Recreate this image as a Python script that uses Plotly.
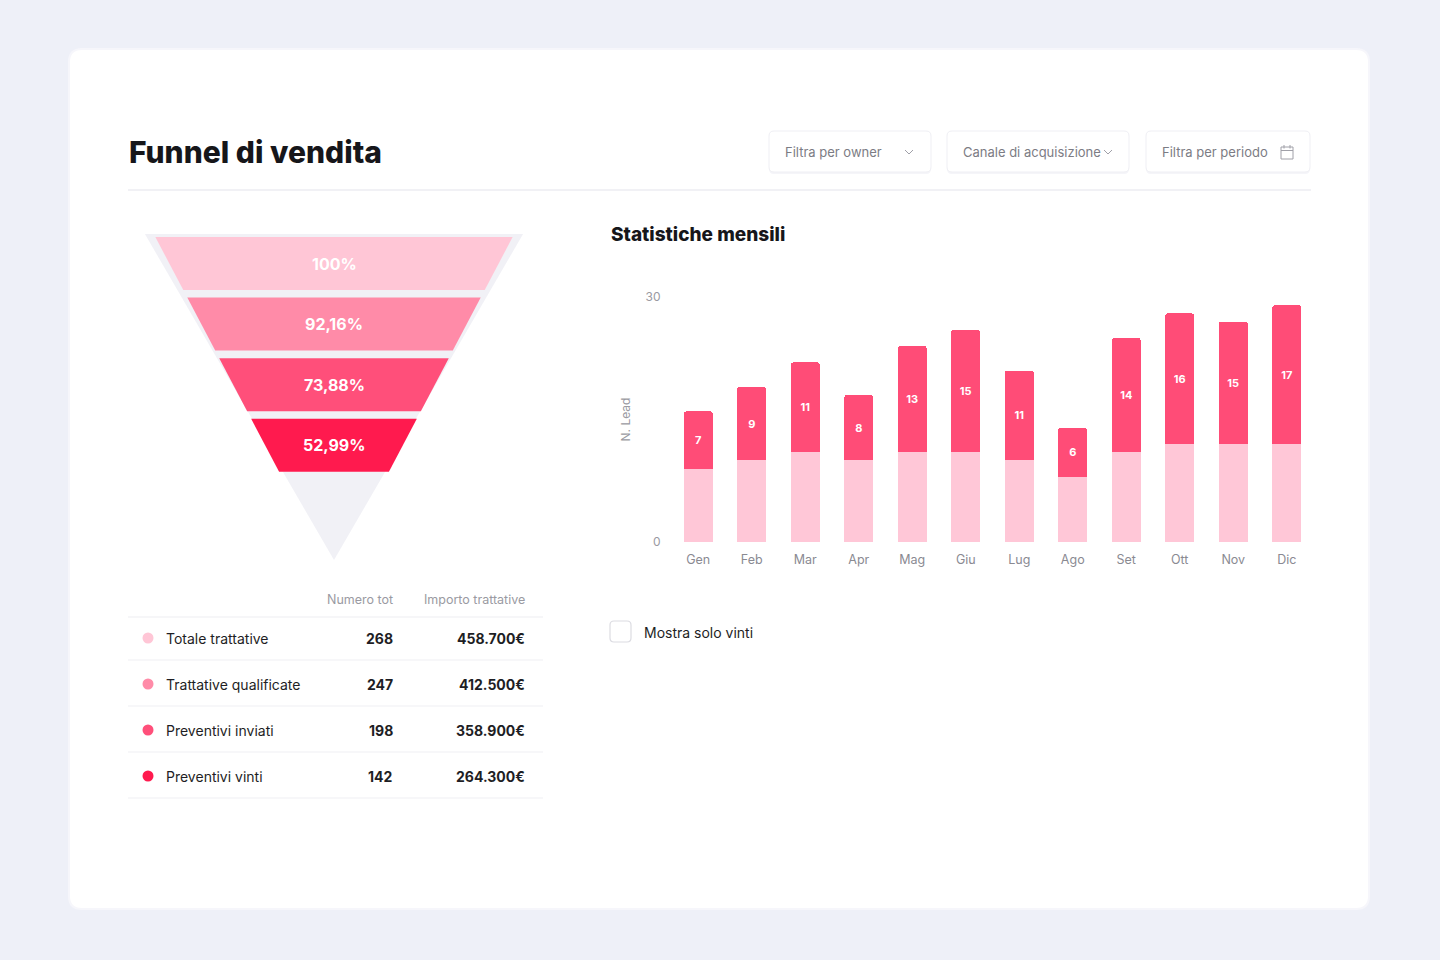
import plotly.graph_objects as go

W, H = 1440, 960

# ---------------- data ----------------
stages = ["Totale trattative", "Trattative qualificate", "Preventivi inviati", "Preventivi vinti"]
stage_counts = [268, 247, 198, 142]
stage_amounts = ["458.700€", "412.500€", "358.900€", "264.300€"]
stage_colors = ["#FFC6D6", "#FF8BA8", "#FF4F7A", "#FF1A4E"]

months = ["Gen", "Feb", "Mar", "Apr", "Mag", "Giu", "Lug", "Ago", "Set", "Ott", "Nov", "Dic"]
base_leads = [9, 10, 11, 10, 11, 11, 10, 8, 11, 12, 12, 12]
won_leads = [7, 9, 11, 8, 13, 15, 11, 6, 14, 16, 15, 17]
y_ticks = [0, 30]

FONT = "Inter"
TITLE_FONT = "Inter"


def px(x):
    return x / W


def py(y):
    return 1 - y / H


def rrect(x0, y0, x1, y1, r):
    """rounded rectangle path in paper coords from pixel values"""
    rx, ry = r / W, r / H
    X0, X1 = px(x0), px(x1)
    Y0, Y1 = py(y0), py(y1)
    return (f"M {X0+rx},{Y0} L {X1-rx},{Y0} Q {X1},{Y0} {X1},{Y0-ry} "
            f"L {X1},{Y1+ry} Q {X1},{Y1} {X1-rx},{Y1} L {X0+rx},{Y1} "
            f"Q {X0},{Y1} {X0},{Y1+ry} L {X0},{Y0-ry} Q {X0},{Y0} {X0+rx},{Y0} Z")


fig = go.Figure()
shapes = []
annotations = []

# ---------------- funnel (pixel-space axis) ----------------
CX = 334
G_APEX, G_SLOPE, G_TOP = 560, 0.58, 234
S_APEX, S_SLOPE = 576, 0.527
S_TOP0, S_STEP, S_H = 237, 60.6, 53

gh = G_SLOPE * (G_APEX - G_TOP)
fig.add_trace(go.Scatter(
    x=[CX - gh, CX + gh, CX, CX - gh], y=[G_TOP, G_TOP, G_APEX, G_TOP],
    fill="toself", fillcolor="#F1F1F6", line=dict(width=0), mode="lines",
    hoverinfo="skip", showlegend=False, xaxis="x", yaxis="y"))

for i, (name, cnt, col) in enumerate(zip(stages, stage_counts, stage_colors)):
    t = S_TOP0 + i * S_STEP
    b = t + S_H
    ht = S_SLOPE * (S_APEX - t)
    hb = S_SLOPE * (S_APEX - b)
    fig.add_trace(go.Scatter(
        x=[CX - ht, CX + ht, CX + hb, CX - hb, CX - ht], y=[t, t, b, b, t],
        fill="toself", fillcolor=col, line=dict(width=0), mode="lines",
        hoverinfo="skip", showlegend=False, xaxis="x", yaxis="y"))
    pct = cnt / stage_counts[0] * 100
    lab = "100%" if i == 0 else f"{pct:.2f}%".replace(".", ",")
    annotations.append(dict(x=CX, y=(t + b) / 2, xref="x", yref="y", text=lab, showarrow=False,
                            font=dict(family=FONT, size=16, color="#FFFFFF", weight="bold")))

# table dots
ROW_Y0, ROW_STEP = 638, 46
fig.add_trace(go.Scatter(
    x=[148] * len(stages), y=[ROW_Y0 + i * ROW_STEP for i in range(len(stages))],
    mode="markers", marker=dict(size=11, color=stage_colors), hoverinfo="skip",
    showlegend=False, xaxis="x", yaxis="y"))

# ---------------- bars ----------------
fig.add_trace(go.Bar(x=months, y=base_leads, marker=dict(color="#FFC7D7", line=dict(width=0)),
                     width=0.54, hoverinfo="skip", showlegend=False, xaxis="x2", yaxis="y2"))
fig.add_trace(go.Bar(x=months, y=won_leads, marker=dict(color="#FF4C77", line=dict(width=0)),
                     width=0.54, text=[str(v) for v in won_leads], textposition="inside",
                     insidetextanchor="middle", textangle=0,
                     textfont=dict(family=FONT, size=11, color="#FFFFFF", weight="bold"),
                     hoverinfo="skip", showlegend=False, xaxis="x2", yaxis="y2"))

# card
shapes.append(dict(type="path", xref="paper", yref="paper", path=rrect(68, 48, 1370, 910, 14),
                   fillcolor="#F6F6FB", line=dict(width=0), layer="below"))
shapes.append(dict(type="path", xref="paper", yref="paper", path=rrect(70, 50, 1368, 908, 12),
                   fillcolor="#FFFFFF", line=dict(width=0), layer="below"))

# header separator
shapes.append(dict(type="line", xref="paper", yref="paper", x0=px(128), x1=px(1311), y0=py(190), y1=py(190),
                   line=dict(color="#EDEDF2", width=1.5), layer="below"))

# title
annotations.append(dict(x=px(127), y=py(152), xref="paper", yref="paper", xanchor="left", yanchor="middle",
                        text="Funnel di vendita", showarrow=False,
                        font=dict(family=TITLE_FONT, size=30, color="#16161A", weight=800)))

# filter buttons
buttons = [("Filtra per owner", 769, 931, "chev", 909),
           ("Canale di acquisizione", 947, 1129, "chev", 1108),
           ("Filtra per periodo", 1146, 1310, "cal", 1287)]
for label, x0, x1, icon, ix in buttons:
    shapes.append(dict(type="path", xref="paper", yref="paper", path=rrect(x0, 133, x1, 174, 5),
                       fillcolor="#F5F5F9", line=dict(width=0), layer="below"))
    shapes.append(dict(type="path", xref="paper", yref="paper", path=rrect(x0, 131, x1, 172, 5),
                       fillcolor="#FFFFFF", line=dict(color="#EFEFF4", width=1), layer="below"))
    annotations.append(dict(x=px(x0 + 14), y=py(152), xref="paper", yref="paper", xanchor="left",
                            yanchor="middle", text=label, showarrow=False,
                            font=dict(family=FONT, size=13, color="#7C7C84")))
    if icon == "chev":
        shapes.append(dict(type="path", xref="paper", yref="paper",
                           path=f"M {px(ix-4)},{py(150)} L {px(ix)},{py(154)} L {px(ix+4)},{py(150)}",
                           line=dict(color="#A0A0A8", width=1)))
    else:
        shapes.append(dict(type="rect", xref="paper", yref="paper", x0=px(ix - 6), x1=px(ix + 6),
                           y0=py(159), y1=py(147), line=dict(color="#A0A0A8", width=1)))
        shapes.append(dict(type="line", xref="paper", yref="paper", x0=px(ix - 6), x1=px(ix + 6),
                           y0=py(150.5), y1=py(150.5), line=dict(color="#A0A0A8", width=1)))
        for dx in (-3, 3):
            shapes.append(dict(type="line", xref="paper", yref="paper", x0=px(ix + dx), x1=px(ix + dx),
                               y0=py(145), y1=py(148.5), line=dict(color="#A0A0A8", width=1)))

# table
COL_NUM, COL_AMT = 395, 527
annotations.append(dict(x=px(COL_NUM), y=py(599), xref="paper", yref="paper", xanchor="right", yanchor="middle",
                        text="Numero tot", showarrow=False, font=dict(family=FONT, size=12.5, color="#9A9AA2")))
annotations.append(dict(x=px(COL_AMT), y=py(599), xref="paper", yref="paper", xanchor="right", yanchor="middle",
                        text="Importo trattative", showarrow=False, font=dict(family=FONT, size=12.5, color="#9A9AA2")))
shapes.append(dict(type="line", xref="paper", yref="paper", x0=px(128), x1=px(543), y0=py(617), y1=py(617),
                   line=dict(color="#EDEDF2", width=1.2), layer="below"))
for i, (name, cnt, amt) in enumerate(zip(stages, stage_counts, stage_amounts)):
    yy = ROW_Y0 + i * ROW_STEP
    annotations.append(dict(x=px(164), y=py(yy), xref="paper", yref="paper", xanchor="left", yanchor="middle",
                            text=name, showarrow=False, font=dict(family=FONT, size=14, color="#1E1E24")))
    annotations.append(dict(x=px(COL_NUM), y=py(yy), xref="paper", yref="paper", xanchor="right",
                            yanchor="middle", text=str(cnt), showarrow=False,
                            font=dict(family=FONT, size=14, color="#1E1E24", weight="bold")))
    annotations.append(dict(x=px(COL_AMT), y=py(yy), xref="paper", yref="paper", xanchor="right",
                            yanchor="middle", text=amt, showarrow=False,
                            font=dict(family=FONT, size=14, color="#1E1E24", weight="bold")))
    ly = yy + 22
    shapes.append(dict(type="line", xref="paper", yref="paper", x0=px(128), x1=px(543), y0=py(ly), y1=py(ly),
                       line=dict(color="#EFEFF3", width=1.2), layer="below"))

# bar chart title
annotations.append(dict(x=px(609), y=py(234), xref="paper", yref="paper", xanchor="left", yanchor="middle",
                        text="Statistiche mensili", showarrow=False,
                        font=dict(family=TITLE_FONT, size=19, color="#16161A", weight=800)))

# checkbox
shapes.append(dict(type="path", xref="paper", yref="paper", path=rrect(610, 621, 631, 642, 4),
                   fillcolor="#FFFFFF", line=dict(color="#DCDCE2", width=1.2)))
annotations.append(dict(x=px(642), y=py(632), xref="paper", yref="paper", xanchor="left", yanchor="middle",
                        text="Mostra solo vinti", showarrow=False,
                        font=dict(family=FONT, size=14, color="#1E1E24")))

fig.update_layout(
    width=W, height=H, margin=dict(l=0, r=0, t=0, b=0, pad=0, autoexpand=False),
    paper_bgcolor="#EEF0F8", plot_bgcolor="rgba(0,0,0,0)",
    barmode="stack", barcornerradius=3,
    xaxis=dict(domain=[0, 1], range=[0, W], visible=False, fixedrange=True, automargin=False),
    yaxis=dict(domain=[0, 1], range=[H, 0], visible=False, fixedrange=True, automargin=False),
    xaxis2=dict(domain=[px(671.5), px(1313.5)], anchor="y2", showgrid=False, zeroline=False,
                showline=False, ticks="", ticklabelstandoff=8, automargin=False, fixedrange=True,
                tickfont=dict(family=FONT, size=12.5, color="#8A8A92")),
    yaxis2=dict(domain=[py(542), py(297)], anchor="x2", range=[0, 30], tickvals=y_ticks,
                showgrid=True, gridcolor="#E9E9EF", gridwidth=1.2, zeroline=False, showline=False,
                ticks="", ticklabelstandoff=10, automargin=False, fixedrange=True,
                tickfont=dict(family=FONT, size=12, color="#9A9AA2"),
                title=dict(text="N. Lead", standoff=12, font=dict(family=FONT, size=12, color="#9A9AA2"))),
    font=dict(family=FONT),
    showlegend=False,
)
fig.layout.shapes = shapes
fig.layout.annotations = annotations

fig.write_html("out.html", config={"displayModeBar": False},
               post_script="document.body.style.margin='0';document.body.style.overflow='hidden';")
